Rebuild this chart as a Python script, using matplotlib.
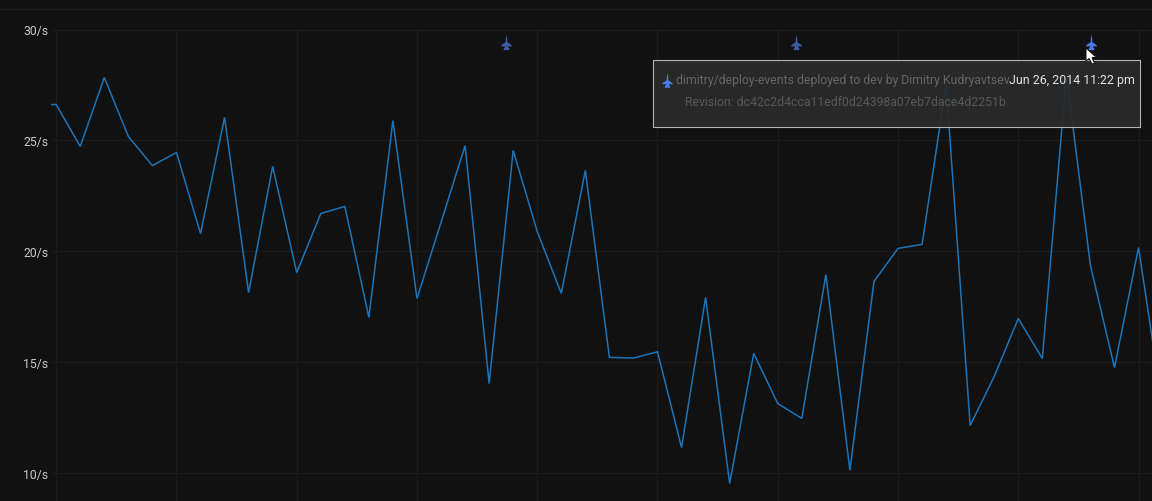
import matplotlib
matplotlib.use('Agg')
import matplotlib.pyplot as plt
from matplotlib.lines import Line2D
from matplotlib.patches import Rectangle, Polygon
from matplotlib.path import Path
from matplotlib.transforms import Affine2D, blended_transform_factory

# request rate, one sample per x step (first one sits left of the axes and gets clipped)
samples = list(range(-1, 47))
rate = [26.62, 26.62, 24.73, 27.84, 25.18, 23.87, 24.46, 20.81, 26.04, 18.15, 23.83, 19.05,
        21.71, 22.03, 17.03, 25.90, 17.88, 21.31, 24.77, 14.05, 24.55, 20.90, 18.11, 23.65,
        15.23, 15.20, 15.48, 11.17, 17.93, 9.55, 15.41, 13.15, 12.48, 18.96, 10.14, 18.65,
        20.14, 20.32, 27.52, 12.16, 14.37, 16.98, 15.18, 27.97, 19.37, 14.77, 20.18, 12.97]
y_ticks = [10, 15, 20, 25, 30]
x_grid = [0, 5, 10, 15, 20, 25, 30, 35, 40, 45]
deploys = [18.7, 30.77]
active_deploy = 43.04

BG = '#111111'
GRID = '#1b1b1b'
LINE = '#1c74b8'
FONT = 'Roboto'

# small jet icon, nose up
plane = Path([(0, 1), (0.09, 0.55), (0.11, 0.05), (0.68, -0.36), (0.68, -0.52), (0.24, -0.5),
              (0.2, -0.62), (0.36, -0.75), (0.36, -1), (-0.36, -1), (-0.36, -0.75), (-0.2, -0.62),
              (-0.24, -0.5), (-0.68, -0.52), (-0.68, -0.36), (-0.11, 0.05), (-0.09, 0.55), (0, 1)])

fig = plt.figure(figsize=(11.52, 5.02), dpi=100, facecolor=BG)
ax = fig.add_axes([51.2 / 1152, 0, 1 - 51.2 / 1152, 471.5 / 502], facecolor=BG)

ax.plot(samples, rate, color=LINE, lw=1.1, zorder=3, solid_joinstyle='miter')
ax.set_xlim(-0.208, 45.56)
ax.set_ylim(8.76, 30)

ax.set_yticks(y_ticks)
ax.set_yticklabels([f'{v}/s' for v in y_ticks], fontsize=8.8, color='#c8c8c8', family=FONT)
ax.set_xticks(x_grid)
ax.tick_params(axis='x', length=0, labelbottom=False)
ax.tick_params(axis='y', length=0, pad=2.0)
ax.grid(True, color=GRID, lw=1.0)
ax.set_axisbelow(True)
for s in ax.spines.values():
    s.set_visible(False)

# deploy markers along the top
trans = blended_transform_factory(ax.transData, ax.transAxes)
ax.plot(deploys, [0.974] * len(deploys), ls='', marker=plane, ms=11, color='#3a5ca4',
        mew=0, transform=trans, clip_on=False, zorder=4)
ax.plot([active_deploy], [0.974], ls='', marker=plane, ms=11, color='#4a7ae6',
        mew=0, transform=trans, clip_on=False, zorder=4)

# the rest is placed in screen pixels, y down
pix = Affine2D().scale(1, -1).translate(0, 502)
fig.add_artist(Line2D([0, 1152], [9.5, 9.5], color='#1e1e1e', lw=1.0, transform=pix))

fig.add_artist(Rectangle((653, 60.5), 487, 67, facecolor='#2a2a2a', edgecolor='none',
                         alpha=0.93, transform=pix, zorder=5))
fig.add_artist(Rectangle((653, 60.5), 487, 67, facecolor='none', edgecolor='#b4b4b4',
                         lw=0.8, transform=pix, zorder=5))
fig.add_artist(Line2D([667], [81], ls='', marker=plane, ms=10.5, color='#4a7ae6', mew=0,
                      transform=pix, zorder=6))
fig.text(676, 80.8, 'dimitry/deploy-events deployed to dev by Dimitry Kudryavtsev', color='#666666',
         fontsize=8.85, family=FONT, va='center', ha='left', transform=pix, zorder=6)
fig.text(1135, 80.8, 'Jun 26, 2014 11:22 pm', color='#e2e3e4', fontsize=8.95, family=FONT,
         va='center', ha='right', transform=pix, zorder=6)
fig.text(685, 102.8, 'Revision: dc42c2d4cca11edf0d24398a07eb7dace4d2251b', color='#585858',
         fontsize=8.85, family=FONT, va='center', ha='left', transform=pix, zorder=6)

# mouse pointer
fig.add_artist(Polygon([(1086, 49), (1086, 62), (1089, 59.5), (1092, 65), (1094.5, 64), (1092, 58.5), (1096.5, 58.5)],
                       closed=True, facecolor='white', edgecolor='#111111', lw=0.7, transform=pix, zorder=7))

fig.savefig('out.png', dpi=100, facecolor=BG)
